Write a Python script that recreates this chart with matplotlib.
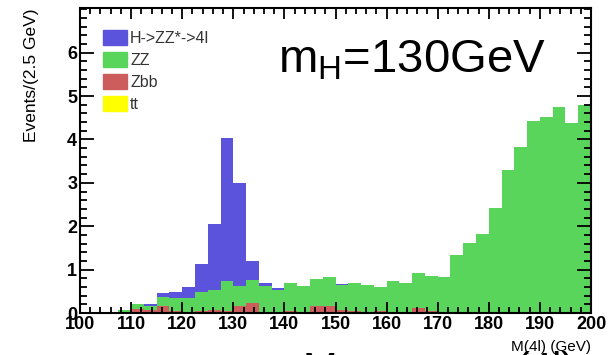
import matplotlib.pyplot as plt
import numpy as np
from matplotlib.patches import Patch
from matplotlib.ticker import MultipleLocator

plt.rcParams["font.family"] = ["Liberation Sans", "DejaVu Sans"]

# 2.5 GeV bins from 100 to 200
edges = np.arange(100, 200, 2.5)
tt = [0.0] * 40
zbb = [0, 0, 0, 0.03, 0.09, 0.08, 0.17, 0.04, 0.03, 0.05,
       0.08, 0.04, 0.16, 0.24, 0.03, 0.03, 0.04, 0.03, 0.17, 0.17,
       0.08, 0.05, 0.03, 0.05, 0.02, 0.02, 0.12, 0.04, 0, 0.03,
       0, 0, 0, 0, 0, 0, 0, 0, 0, 0]
zz = [0, 0, 0.03, 0.05, 0.11, 0.07, 0.19, 0.31, 0.31, 0.43,
      0.45, 0.69, 0.46, 0.52, 0.60, 0.51, 0.65, 0.59, 0.61, 0.65,
      0.56, 0.64, 0.62, 0.56, 0.71, 0.67, 0.81, 0.81, 0.84, 1.30,
      1.61, 1.82, 2.42, 3.30, 3.83, 4.42, 4.51, 4.75, 4.39, 4.80]
higgs = [0, 0, 0, 0, 0, 0.05, 0.09, 0.13, 0.26, 0.65,
         1.52, 3.30, 2.38, 0.45, 0.06, 0.03, 0, 0, 0, 0,
         0.03, 0, 0, 0, 0, 0, 0, 0, 0, 0,
         0, 0, 0, 0, 0, 0, 0, 0, 0, 0]

labels = ["H->ZZ*->4l", "ZZ", "Zbb", "tt"]
colors = {"H->ZZ*->4l": "#5B53DB", "ZZ": "#58D55A", "Zbb": "#CD5D5D", "tt": "#FFFF00"}

fig = plt.figure(figsize=(6.08, 3.55), dpi=100)
ax = fig.add_axes([80 / 608, 42 / 355, 511 / 608, 305 / 355])

bottom = np.zeros(len(edges))
for name, vals in [("tt", tt), ("Zbb", zbb), ("ZZ", zz), ("H->ZZ*->4l", higgs)]:
    vals = np.array(vals)
    ax.bar(edges, vals, width=2.5, align="edge", bottom=bottom,
           color=colors[name], linewidth=0)
    bottom = bottom + vals

ax.set_xlim(100, 200)
ax.set_ylim(0, 7.03)
ax.xaxis.set_major_locator(MultipleLocator(10))
ax.xaxis.set_minor_locator(MultipleLocator(2))
ax.yaxis.set_minor_locator(MultipleLocator(0.2))
ax.set_yticks([0, 1, 2, 3, 4, 5, 6])
ax.tick_params(which="both", direction="in", top=True, right=True, width=1.3,
               labelsize=13, pad=2)
ax.tick_params(which="major", length=10)
ax.tick_params(which="minor", length=5)
ax.tick_params(axis="x", which="major", length=8)
ax.tick_params(axis="x", which="minor", length=4)
for lbl in ax.get_xticklabels() + ax.get_yticklabels():
    lbl.set_fontweight("bold")
for sp in ax.spines.values():
    sp.set_linewidth(1.5)

ax.set_ylabel("Events/(2.5 GeV)", fontsize=12.5, loc="top", labelpad=20)
ax.set_xlabel("M(4l) (GeV)", fontsize=11, loc="right", labelpad=5)

handles = [Patch(color=colors[l]) for l in labels]
ax.legend(handles, labels, loc="upper left", bbox_to_anchor=(0.045, 0.928),
          frameon=False, fontsize=11.5, handlelength=1.5, handleheight=1.06,
          labelspacing=0.375, handletextpad=0.2, borderpad=0, borderaxespad=0,
          labelcolor="#333333")

ax.text(0.387, 0.79, r"$\mathregular{m_H}$=130GeV", transform=ax.transAxes,
        fontsize=34, va="baseline", ha="left")

# cut-off slide text at the bottom edge
fig.text(303 / 608, 1 - 351 / 355, "Mass", fontsize=30, ha="left", va="top")
fig.text(575 / 608, 1 - 351 / 355, "(4l)", fontsize=30, ha="right", va="top")

fig.savefig("out.png", dpi=100)
